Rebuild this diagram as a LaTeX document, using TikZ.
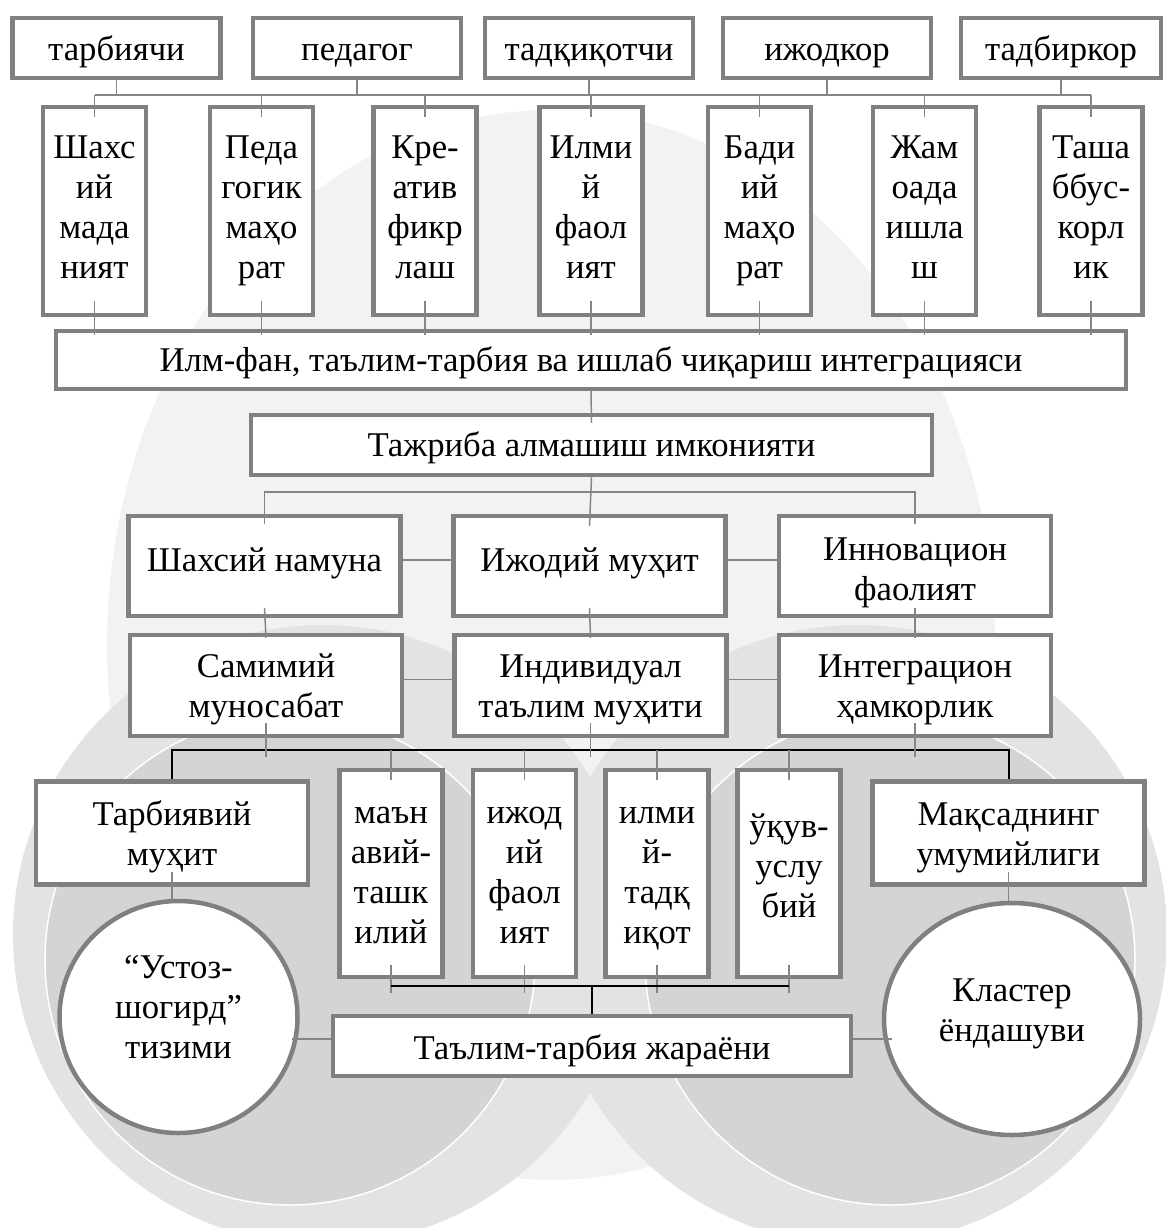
\documentclass[tikz,border=0pt]{standalone}
\usepackage{fontspec}
\setmainfont{Liberation Serif}
\usepackage{tikz}
\usetikzlibrary{calc, shapes.geometric}
\definecolor{BoxGray}{rgb}{0.5,0.5,0.5}
\definecolor{LinkGray}{rgb}{0.52,0.52,0.52}
\definecolor{TopShade}{rgb}{0.95,0.95,0.95}
\definecolor{HaloShade}{rgb}{0.89,0.89,0.89}
\definecolor{CoreShade}{rgb}{0.83,0.83,0.83}

\begin{document}
\begin{tikzpicture}[x=1pt, y=-1pt,
		every node/.style={font=\fontsize{34.7}{40}\selectfont},
		struts/.style 2 args={execute at begin node={\rule{0pt}{#1}}, execute at end node={\rule[-#2]{0pt}{#2}}},
		box/.style={draw=BoxGray, line width=4.5pt, fill=white, align=flush center, inner sep=0pt},
		role/.style={box, struts={34pt}{8pt}, text width=200pt, minimum width=208pt, minimum height=60pt},
		tall/.style={box, struts={26pt}{12pt}, text width=100pt, minimum width=103pt, minimum height=208pt},
		wide/.style={box, struts={35pt}{12pt}, text width=265pt, minimum width=272pt, minimum height=101pt},
		oval/.style={box, ellipse, minimum height=232pt},
		link/.style={LinkGray, line width=1.5pt},
		bus/.style={black, line width=2pt}]
		\useasboundingbox (0,0) rectangle (1165,1228);
		
		\fill[TopShade] (551,645) ellipse [x radius=444pt, y radius=535pt];
		\fill[HaloShade] (323,935) circle [radius=310pt];
		\fill[HaloShade] (857,935) circle [radius=310pt];
		\filldraw[fill=CoreShade, draw=white, line width=1.5pt] (290,960) circle [radius=245pt];
		\filldraw[fill=CoreShade, draw=white, line width=1.5pt] (890,960) circle [radius=245pt];
		
		\node[role] (tarbiyachi) at (116.5,48) {тарбиячи};
		\node[role] (pedagog) at (357,48) {педагог};
		\node[role] (tadqiqotchi) at (589,48) {тадқиқотчи};
		\node[role] (ijodkor) at (827,48) {ижодкор};
		\node[role, minimum width=200pt] (tadbirkor) at (1061,48) {тадбиркор};
		
		\node[tall] (s1) at (94.5,211) {Шахс\\ий\\мада\\ният};
		\node[tall] (s2) at (261.5,211) {Педа\\гогик\\маҳо\\рат};
		\node[tall] (s3) at (425,211) {Кре-\\атив\\фикр\\лаш};
		\node[tall] (s4) at (591,211) {Илми\\й\\фаол\\ият};
		\node[tall] (s5) at (759.5,211) {Бади\\ий\\маҳо\\рат};
		\node[tall] (s6) at (924.5,211) {Жам\\оада\\ишла\\ш};
		\node[tall] (s7) at (1091,211) {Таша\\ббус-\\корл\\ик};
		
		\node[box, struts={30pt}{8pt}, text width=1060pt, minimum width=1070pt, minimum height=58pt] (integr) at (591,360) {Илм-фан, таълим-тарбия ва ишлаб чиқариш интеграцияси};
		\node[box, struts={30pt}{8pt}, text width=670pt, minimum width=681pt, minimum height=60pt] (tajriba) at (591.5,445) {Тажриба алмашиш имконияти};
		
		\node[wide, struts={28pt}{24pt}, minimum height=100pt] (namuna) at (264.5,566) {Шахсий намуна};
		\node[wide, struts={28pt}{24pt}, minimum height=100pt] (muhit) at (589.5,566) {Ижодий муҳит};
		\node[wide, struts={40pt}{12pt}, minimum height=100pt] (innov) at (915,566) {Инновацион\\фаолият};
		
		\node[wide] (samimiy) at (266,685.5) {Самимий\\муносабат};
		\node[wide] (individ) at (590.5,685.5) {Индивидуал\\таълим муҳити};
		\node[wide] (hamkor) at (915,685.5) {Интеграцион\\ҳамкорлик};
		
		\node[wide, struts={36pt}{12pt}, minimum height=103pt] (tmuhit) at (172,833) {Тарбиявий\\муҳит};
		\node[tall, struts={31pt}{12pt}, minimum height=207pt] (u1) at (391,873.5) {маън\\авий-\\ташк\\илий};
		\node[tall, struts={31pt}{12pt}, minimum height=207pt] (u2) at (524.5,873.5) {ижод\\ий\\фаол\\ият};
		\node[tall, struts={31pt}{12pt}, minimum height=207pt] (u3) at (657,873.5) {илми\\й-\\тадқ\\иқот};
		\node[tall, struts={28pt}{21pt}, minimum height=207pt] (u4) at (789,873.5) {ўқув-\\услу\\бий};
		\node[wide, struts={36pt}{12pt}, minimum height=103pt] (maqsad) at (1008.5,833) {Мақсаднинг\\умумийлиги};
		
		\node[box, struts={34pt}{8pt}, text width=510pt, minimum width=518pt, minimum height=60pt] (jarayon) at (592,1046) {Таълим-тарбия жараёни};
		\node[oval, struts={28pt}{26pt}, text width=135pt, minimum width=238pt] (ustoz) at (178.5,1017) {“Устоз-\\шогирд”\\тизими};
		\node[oval, struts={28pt}{24pt}, text width=150pt, minimum width=256pt] (klaster) at (1012,1019) {Кластер\\ёндашуви};
		
		\coordinate (bus1) at (0,95);
		\coordinate (bus2) at (0,492);
		\coordinate (bus3) at (0,750);
		\coordinate (bus4) at (0,986);
		
		\foreach \n in {tarbiyachi,pedagog,tadqiqotchi,ijodkor,tadbirkor}
			\draw[link] (\n.south) -- (\n.south |- bus1);
		\draw[link] (s1.north |- bus1) -- (s7.north |- bus1);
		\foreach \i in {1,...,7} {
			\draw[link] (s\i.north |- bus1) -- ($(s\i.north)+(0,12)$);
			\draw[link] ($(s\i.south)+(0,-16)$) -- ($(s\i.south |- integr.north)+(0,6)$);
		}
		
		\draw[link] (integr.south) -- ($(tajriba.north)+(0,10)$);
		\draw[link] (tajriba.south) -- ($(muhit.north)+(0,12)$);
		\draw[link] ($(namuna.north)+(0,10)$) -- (namuna.north |- bus2) -- (innov.north |- bus2) -- ($(innov.north)+(0,10)$);
		\draw[link] ($(namuna.east)+(0,-6)$) -- ($(muhit.west)+(0,-6)$);
		\draw[link] ($(muhit.east)+(0,-6)$) -- ($(innov.west)+(0,-6)$);
		\draw[link] ($(namuna.south)+(0,-10)$) -- ($(samimiy.north)+(0,5)$);
		\draw[link] ($(muhit.south)+(0,-10)$) -- ($(individ.north)+(0,5)$);
		\draw[link] ($(innov.south)+(0,-10)$) -- ($(hamkor.north)+(0,5)$);
		\draw[link] ($(samimiy.east)+(0,-6)$) -- ($(individ.west)+(0,-6)$);
		\draw[link] ($(individ.east)+(0,-6)$) -- ($(hamkor.west)+(0,-6)$);
		
		\draw[bus] (tmuhit.north) -- (tmuhit.north |- bus3) -- (maqsad.north |- bus3) -- (maqsad.north);
		\foreach \n in {samimiy,individ,hamkor}
			\draw[link] ($(\n.south)+(0,-15)$) -- ($(\n.south |- bus3)+(0,7)$);
		\foreach \n in {u1,u2,u3,u4} {
			\draw[link] (\n.north |- bus3) -- ($(\n.north)+(0,12)$);
			\draw[link] ($(\n.south)+(0,-14)$) -- ($(\n.south |- bus4)+(0,7)$);
		}
		\draw[bus] (u1.south |- bus4) -- (u4.south |- bus4);
		\draw[bus] (jarayon.north |- bus4) -- (jarayon.north);
		
		\draw[link] ($(tmuhit.south)+(0,-15)$) -- (tmuhit.south |- ustoz.north);
		\draw[link] ($(maqsad.south)+(0,-15)$) -- (maqsad.south |- klaster.north);
		\draw[link] ($(jarayon.west)+(0,-7)$) -- ($(jarayon.west -| ustoz.east)+(-8,-7)$);
		\draw[link] ($(jarayon.east)+(0,-7)$) -- ($(jarayon.east -| klaster.west)+(10,-7)$);
	\end{tikzpicture}
\end{document}
